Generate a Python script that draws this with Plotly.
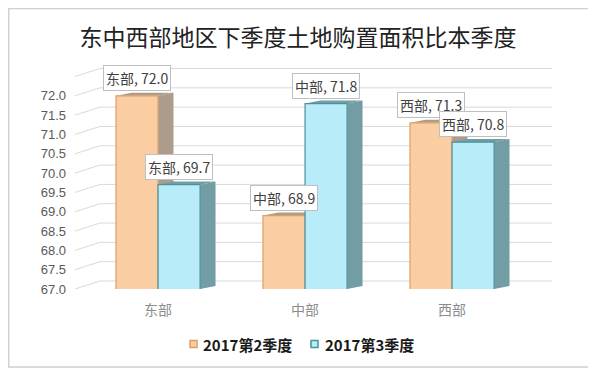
import plotly.graph_objects as go

categories = ["东部", "中部", "西部"]
series_names = ["2017第2季度", "2017第3季度"]
q2_values = [72.0, 68.9, 71.3]
q3_values = [69.7, 71.8, 70.8]
y_ticks = [67.0, 67.5, 68.0, 68.5, 69.0, 69.5, 70.0, 70.5, 71.0, 71.5, 72.0]
grid_levels = [67.0, 67.5, 68.0, 68.5, 69.0, 69.5, 70.0, 70.5, 71.0, 71.5, 72.0, 72.5]
title_text = "东中西部地区下季度土地购置面积比本季度"

fill_colors = ["#FBCDA2", "#B8ECF8"]
line_colors = ["#DDA064", "#4A929D"]
side_colors = ["#AD9C8C", "#729DA5"]

FONT = "Noto Sans CJK SC"
X_MIN, X_MAX = -0.565, 2.68
Y_MIN, Y_MAX = 67.0, 72.72
WALL_DX, WALL_DY = 0.17, 0.207
BAR_HALF = 0.143
BAR_DX, BAR_DY = 0.105, 0.08

fig = go.Figure()
all_vals = [q2_values, q3_values]
for name, vals, fc, lc in zip(series_names, all_vals, fill_colors, line_colors):
    fig.add_trace(go.Bar(
        x=list(range(len(categories))), y=vals, name=name, showlegend=False,
        marker=dict(color=fc, line=dict(color=lc, width=1.2)),
    ))

# back-wall gridlines and left-wall diagonals
for g in grid_levels:
    fig.add_shape(type="line", xref="x", yref="y", x0=X_MIN + WALL_DX, x1=X_MAX,
                  y0=g + WALL_DY, y1=g + WALL_DY, line=dict(color="#D9D9D9", width=1), layer="below")
    fig.add_shape(type="line", xref="x", yref="y", x0=X_MIN, x1=X_MIN + WALL_DX,
                  y0=g, y1=g + WALL_DY, line=dict(color="#D9D9D9", width=1), layer="below")

offsets = [-BAR_HALF, BAR_HALF]
# 3D side/top faces derived from data
for si, vals in enumerate(all_vals):
    for ci, v in enumerate(vals):
        xr = ci + offsets[si] + BAR_HALF
        xl = xr - 2 * BAR_HALF
        fig.add_shape(type="path", xref="x", yref="y",
                      path=f"M {xr},{Y_MIN} L {xr+BAR_DX},{Y_MIN+BAR_DY} L {xr+BAR_DX},{v+BAR_DY} L {xr},{v} Z",
                      fillcolor=side_colors[si], line=dict(width=0), layer="below")
        fig.add_shape(type="path", xref="x", yref="y",
                      path=f"M {xl},{v} L {xl+BAR_DX},{v+BAR_DY} L {xr+BAR_DX},{v+BAR_DY} L {xr},{v} Z",
                      fillcolor=side_colors[si], line=dict(width=0), layer="below")

# value annotations
for si, vals in enumerate(all_vals):
    for ci, v in enumerate(vals):
        fig.add_annotation(
            x=ci + offsets[si], y=v, xref="x", yref="y",
            text=f"{categories[ci]}, {v:.1f}", showarrow=False,
            yanchor="bottom", yshift=5,
            font=dict(family=FONT, size=14, color="#404040"),
            bgcolor="white", bordercolor="#BFBFBF", borderwidth=1, borderpad=2,
        )

# custom legend (small squares + bold text)
legend_sq_x = [(0.2411, 0.2558), (0.4948, 0.5094)]
legend_txt_x = [0.2642, 0.5199]
for i, name in enumerate(series_names):
    fig.add_shape(type="rect", xref="paper", yref="paper",
                  x0=legend_sq_x[i][0], x1=legend_sq_x[i][1], y0=-0.2647, y1=-0.2330,
                  fillcolor=fill_colors[i], line=dict(color=line_colors[i], width=1.5))
    fig.add_annotation(x=legend_txt_x[i], y=-0.2489, xref="paper", yref="paper",
                       text=f"<b>{name}</b>", showarrow=False, xanchor="left", yanchor="middle",
                       font=dict(family=FONT, size=15, color="#1a1a1a"))

# outer border
fig.add_shape(type="rect", xref="paper", yref="paper", x0=-0.139, x1=1.0797, y0=-0.353, y1=1.269,
              line=dict(color="#D0D0D0", width=1.5), fillcolor="rgba(0,0,0,0)")

fig.update_layout(
    width=588, height=365,
    margin=dict(l=67, r=44, t=60, b=84),
    paper_bgcolor="white", plot_bgcolor="white",
    barmode="group", bargap=0.428, bargroupgap=0,
    title=dict(text=title_text, xref="container", x=0.493, xanchor="center",
               yref="container", y=0.918, yanchor="middle",
               font=dict(family=FONT, size=23, color="#222222")),
    showlegend=False,
)
fig.update_xaxes(range=[X_MIN, X_MAX], tickvals=list(range(len(categories))), ticktext=categories,
                 showgrid=False, showline=False, zeroline=False, ticks="",
                 tickfont=dict(family=FONT, size=14, color="#8C8C8C"), ticklabelstandoff=11)
fig.update_yaxes(range=[Y_MIN, Y_MAX], tickvals=y_ticks, ticktext=[f"{t:.1f}" for t in y_ticks],
                 showgrid=False, zeroline=False, showline=False,
                 tickfont=dict(family="Liberation Sans", size=13, color="#595959"),
                 ticklabelstandoff=8)
fig.write_html("out.html")
